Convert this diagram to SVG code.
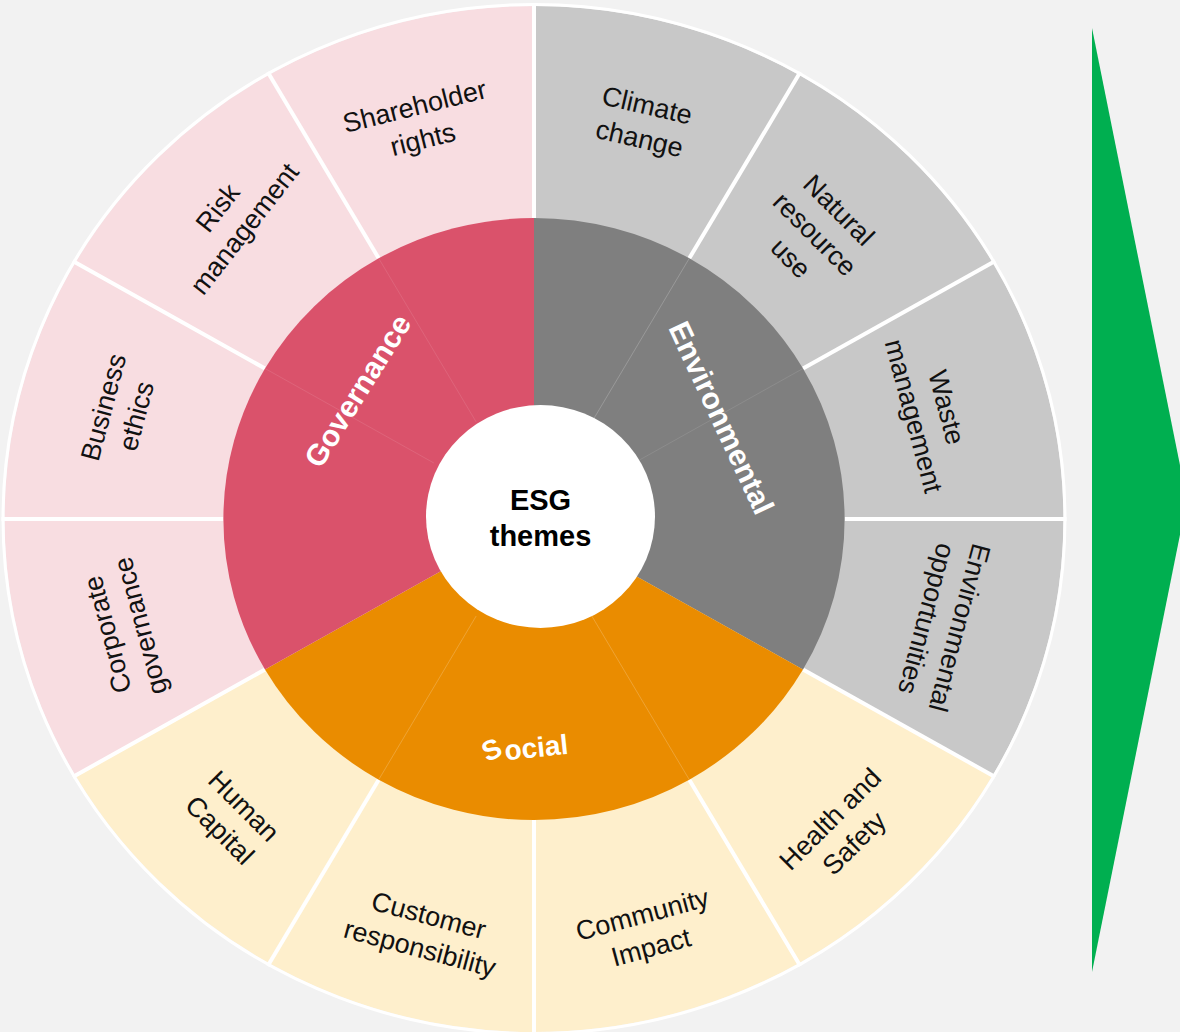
<svg xmlns="http://www.w3.org/2000/svg" width="1180" height="1032" viewBox="0 0 1180 1032">
<style>
.bg{fill:#F2F2F2}
.gl{fill:#F8DDE1}
.el{fill:#C8C8C8}
.sl{fill:#FEEFCC}
.g{fill:#DA526B}
.e{fill:#7F7F7F}
.s{fill:#EA8C00}
.div{stroke:#FFFFFF;stroke-width:4;fill:none}
.faint{stroke:#FFFFFF;stroke-opacity:0.2;stroke-width:1;fill:none}
.faint2{stroke:#FFFFFF;stroke-opacity:0.1;stroke-width:1;fill:none}
.lbl{font-family:"Liberation Sans",Arial,sans-serif;font-size:27px;fill:#111111;text-anchor:middle}
.cat{font-family:"Liberation Sans",Arial,sans-serif;font-size:29px;font-weight:bold;fill:#FFFFFF;text-anchor:middle}
.ctr{font-family:"Liberation Sans",Arial,sans-serif;font-size:29px;font-weight:bold;fill:#000000;text-anchor:middle}
</style>
<rect class="bg" x="0" y="0" width="1180" height="1032"/>

<g id="outer-segments">
<g id="climate-change"><path class="el" d="M534,519 L534,6 A529.4,513 0 0 1 798.7,74.7 Z"/></g>
<g id="natural-resource-use"><path class="el" d="M534,519 L798.7,74.7 A529.4,513 0 0 1 992.5,262.5 Z"/></g>
<g id="waste-management"><path class="el" d="M534,519 L992.5,262.5 A529.4,513 0 0 1 1063.4,519 Z"/></g>
<g id="environmental-opportunities"><path class="el" d="M534,519 L1063.4,519 A529.4,513 0 0 1 992.5,775.5 Z"/></g>
<g id="health-and-safety"><path class="sl" d="M534,519 L992.5,775.5 A529.4,513 0 0 1 798.7,963.3 Z"/></g>
<g id="community-impact"><path class="sl" d="M534,519 L798.7,963.3 A529.4,513 0 0 1 534,1032 Z"/></g>
<g id="customer-responsibility"><path class="sl" d="M534,519 L534,1032 A529.4,513 0 0 1 269.3,963.3 Z"/></g>
<g id="human-capital"><path class="sl" d="M534,519 L269.3,963.3 A529.4,513 0 0 1 75.5,775.5 Z"/></g>
<g id="corporate-governance"><path class="gl" d="M534,519 L75.5,775.5 A529.4,513 0 0 1 4.6,519 Z"/></g>
<g id="business-ethics"><path class="gl" d="M534,519 L4.6,519 A529.4,513 0 0 1 75.5,262.5 Z"/></g>
<g id="risk-management"><path class="gl" d="M534,519 L75.5,262.5 A529.4,513 0 0 1 269.3,74.7 Z"/></g>
<g id="shareholder-rights"><path class="gl" d="M534,519 L269.3,74.7 A529.4,513 0 0 1 534,6 Z"/></g>
</g>

<g id="dividers">
<ellipse cx="534" cy="519" rx="531" ry="514.5" fill="none" stroke="#FFFFFF" stroke-width="3"/>
<line class="div" x1="534" y1="218" x2="534" y2="3"/>
<line class="div" x1="689.3" y1="258.3" x2="800.3" y2="72.1"/>
<line class="div" x1="803.0" y1="368.5" x2="995.2" y2="261"/>
<line class="div" x1="844.6" y1="519" x2="1066.5" y2="519"/>
<line class="div" x1="803.0" y1="669.5" x2="995.2" y2="777"/>
<line class="div" x1="689.3" y1="779.7" x2="800.3" y2="965.9"/>
<line class="div" x1="534" y1="820" x2="534" y2="1035"/>
<line class="div" x1="378.7" y1="779.7" x2="267.7" y2="965.9"/>
<line class="div" x1="265.0" y1="669.5" x2="72.8" y2="777"/>
<line class="div" x1="223.4" y1="519" x2="1.5" y2="519"/>
<line class="div" x1="265.0" y1="368.5" x2="72.8" y2="261"/>
<line class="div" x1="378.7" y1="258.3" x2="267.7" y2="72.1"/>
</g>

<g id="environmental"><path class="e" d="M534,519 L534,218 A310.6,301 0 0 1 803.0,669.5 Z"/></g>
<g id="social"><path class="s" d="M534,519 L803.0,669.5 A310.6,301 0 0 1 265.0,669.5 Z"/></g>
<g id="governance"><path class="g" d="M534,519 L265.0,669.5 A310.6,301 0 0 1 534,218 Z"/></g>

<g id="subdivisions">
<line class="faint" x1="591.8" y1="422" x2="689.3" y2="258.3"/>
<line class="faint2" x1="634.1" y1="463" x2="803.0" y2="368.5"/>
<line class="faint" x1="591.8" y1="616" x2="689.3" y2="779.7"/>
<line class="faint" x1="476.2" y1="616" x2="378.7" y2="779.7"/>
<line class="faint2" x1="433.9" y1="463" x2="265.0" y2="368.5"/>
<line class="faint2" x1="476.2" y1="422" x2="378.7" y2="258.3"/>
</g>

<g id="esg-themes">
<ellipse cx="540.5" cy="516.5" rx="114.5" ry="111.5" fill="#FFFFFF"/>
<text class="ctr" x="540.5" y="510">ESG</text>
<text class="ctr" x="540.5" y="545.5">themes</text>
</g>

<g id="category-labels">
<text class="cat" transform="translate(358,391) rotate(-58)" y="10" style="font-size:30px">Governance</text>
<text class="cat" transform="translate(721,418) rotate(65)" y="10" style="font-size:30px">Environmental</text>
<text class="cat" transform="translate(527,748) rotate(-6)" y="10" rotate="-18 0" style="font-size:28px">Social</text>
</g>

<g id="segment-labels">
<text class="lbl" transform="translate(643,123) rotate(13)"><tspan x="0" y="-9">Climate</tspan><tspan x="0" y="25">change</tspan></text>
<text class="lbl" transform="translate(814,235) rotate(45)"><tspan x="0" y="-26">Natural</tspan><tspan x="0" y="8">resource</tspan><tspan x="0" y="42">use</tspan></text>
<text class="lbl" transform="translate(929,412) rotate(75)"><tspan x="0" y="-9">Waste</tspan><tspan x="0" y="25">management</tspan></text>
<text class="lbl" transform="translate(942,623) rotate(105)"><tspan x="0" y="-9">Environmental</tspan><tspan x="0" y="25">opportunities</tspan></text>
<text class="lbl" transform="translate(843,832) rotate(-45)"><tspan x="0" y="-9">Health and</tspan><tspan x="0" y="25">Safety</tspan></text>
<text class="lbl" transform="translate(647,932) rotate(-15)"><tspan x="0" y="-9">Community</tspan><tspan x="0" y="25">Impact</tspan></text>
<text class="lbl" transform="translate(424,933) rotate(15)"><tspan x="0" y="-9">Customer</tspan><tspan x="0" y="25">responsibility</tspan></text>
<text class="lbl" transform="translate(231,819) rotate(45)"><tspan x="0" y="-9">Human</tspan><tspan x="0" y="25">Capital</tspan></text>
<text class="lbl" transform="translate(125,630) rotate(-105)"><tspan x="0" y="-9">Corporate</tspan><tspan x="0" y="25">governance</tspan></text>
<text class="lbl" transform="translate(121,412) rotate(-75)"><tspan x="0" y="-9">Business</tspan><tspan x="0" y="25">ethics</tspan></text>
<text class="lbl" transform="translate(232,219) rotate(-52)"><tspan x="0" y="-9">Risk</tspan><tspan x="0" y="25">management</tspan></text>
<text class="lbl" transform="translate(419,124) rotate(-14)"><tspan x="0" y="-9">Shareholder</tspan><tspan x="0" y="25">rights</tspan></text>
</g>

<g id="arrow">
<polygon points="1092,28 1187,500 1092,972" fill="#00AF50"/>
</g>
</svg>
